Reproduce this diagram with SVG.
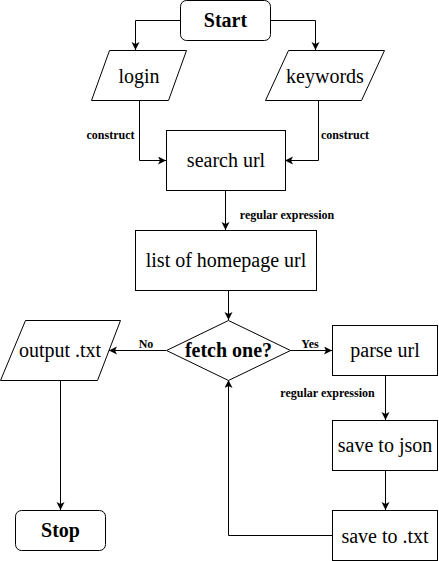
<svg xmlns="http://www.w3.org/2000/svg" width="439" height="561" viewBox="0 0 439 561">
<style>
.n{fill:#fff;stroke:#000;stroke-width:1}
.t{font-family:"Liberation Serif","Times New Roman",serif;font-size:20px;fill:#000;text-anchor:middle}
.b{font-weight:bold}
.c{fill:none;stroke:#000;stroke-width:1}
.l{font-family:"Liberation Serif","Times New Roman",serif;font-size:12px;font-weight:bold;fill:#000;text-anchor:middle}
</style>
<defs>
<marker id="a" markerUnits="userSpaceOnUse" markerWidth="10" markerHeight="10" refX="8" refY="4" orient="auto">
<path d="M0,0 L8,4 L0,8 L2,4 z" fill="#000"/>
</marker>
</defs>
<rect width="439" height="561" fill="#fff"/>
<g id="connectors">
<path class="c" marker-end="url(#a)" d="M180,20.5 H135.5 V50"/>
<path class="c" marker-end="url(#a)" d="M270,20.5 H315.5 V50"/>
<path class="c" marker-end="url(#a)" d="M139.5,100 V160.5 H166"/>
<path class="c" marker-end="url(#a)" d="M318.5,100 V160.5 H285"/>
<path class="c" marker-end="url(#a)" d="M225.5,190 V230"/>
<path class="c" marker-end="url(#a)" d="M228.5,290 V320"/>
<path class="c" marker-end="url(#a)" d="M166,350.5 H109"/>
<path class="c" marker-end="url(#a)" d="M290,350.5 H332"/>
<path class="c" marker-end="url(#a)" d="M385.5,375 V420"/>
<path class="c" marker-end="url(#a)" d="M385.5,470 V510"/>
<path class="c" marker-end="url(#a)" d="M332,535.5 H228.5 V380"/>
<path class="c" marker-end="url(#a)" d="M60.5,380 V510"/>
<text class="l" x="110.5" y="139">construct</text>
<text class="l" x="345" y="139">construct</text>
<text class="l" x="287" y="219">regular expression</text>
<text class="l" x="327.5" y="397">regular expression</text>
<text class="l" x="146" y="348">No</text>
<text class="l" x="310" y="348">Yes</text>
</g>
<g id="start">
<rect class="n" x="180.5" y="0.5" width="90" height="40" rx="6"/>
<text class="t b" x="225.5" y="27">Start</text>
</g>
<g id="login">
<polygon class="n" points="109.5,50.5 186.5,50.5 168.5,100.5 91.5,100.5"/>
<text class="t" x="139" y="83">login</text>
</g>
<g id="keywords">
<polygon class="n" points="288.5,50.5 384.5,50.5 361.5,100.5 265.5,100.5"/>
<text class="t" x="325" y="83">keywords</text>
</g>
<g id="search-url">
<rect class="n" x="166.5" y="130.5" width="119" height="60"/>
<text class="t" x="226" y="167">search url</text>
</g>
<g id="list">
<rect class="n" x="135.5" y="230.5" width="181" height="60"/>
<text class="t" x="226" y="267">list of homepage url</text>
</g>
<g id="fetch">
<polygon class="n" points="228.5,320.5 290.5,350.5 228.5,380.5 166.5,350.5"/>
<text class="t b" x="228.5" y="357">fetch one?</text>
</g>
<g id="output">
<polygon class="n" points="25.5,320.5 120.5,320.5 97.5,380.5 0.5,380.5"/>
<text class="t" x="60" y="357">output .txt</text>
</g>
<g id="parse">
<rect class="n" x="332.5" y="325.5" width="105" height="50"/>
<text class="t" x="385" y="357">parse url</text>
</g>
<g id="json">
<rect class="n" x="332.5" y="420.5" width="105" height="50"/>
<text class="t" x="385" y="452">save to json</text>
</g>
<g id="txt">
<rect class="n" x="332.5" y="510.5" width="105" height="50"/>
<text class="t" x="385" y="543">save to .txt</text>
</g>
<g id="stop">
<rect class="n" x="15.5" y="510.5" width="90" height="40" rx="6"/>
<text class="t b" x="60.5" y="537">Stop</text>
</g>
</svg>
